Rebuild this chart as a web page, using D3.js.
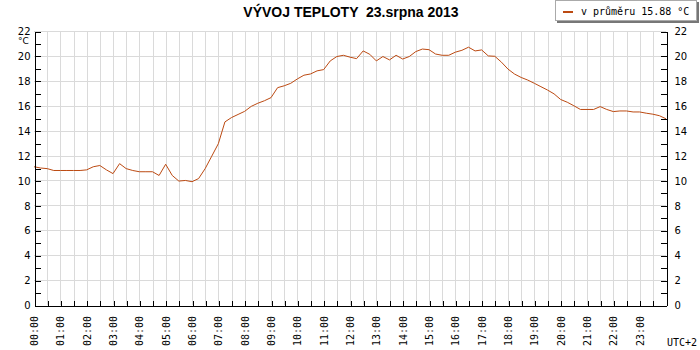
<!DOCTYPE html>
<html>
<head>
<meta charset="utf-8">
<script src="https://cdn.jsdelivr.net/npm/d3@7"></script>
<style>
    body { margin: 0; background: #fff; }
    svg { display: block; }
</style>
</head>
<body>
<div id="chart"></div>
<script>
    // teplota po 15 minutach
    const times = [
        "00:00","00:15","00:30","00:45","01:00","01:15","01:30","01:45",
        "02:00","02:15","02:30","02:45","03:00","03:15","03:30","03:45",
        "04:00","04:15","04:30","04:45","05:00","05:15","05:30","05:45",
        "06:00","06:15","06:30","06:45","07:00","07:15","07:30","07:45",
        "08:00","08:15","08:30","08:45","09:00","09:15","09:30","09:45",
        "10:00","10:15","10:30","10:45","11:00","11:15","11:30","11:45",
        "12:00","12:15","12:30","12:45","13:00","13:15","13:30","13:45",
        "14:00","14:15","14:30","14:45","15:00","15:15","15:30","15:45",
        "16:00","16:15","16:30","16:45","17:00","17:15","17:30","17:45",
        "18:00","18:15","18:30","18:45","19:00","19:15","19:30","19:45",
        "20:00","20:15","20:30","20:45","21:00","21:15","21:30","21:45",
        "22:00","22:15","22:30","22:45","23:00","23:15","23:30","23:45",
        "24:00"
    ];
    const temps = [
        11.1, 11.0, 10.95, 10.8, 10.8, 10.8, 10.8, 10.8,
        10.85, 11.1, 11.2, 10.85, 10.55, 11.35, 10.95, 10.8,
        10.7, 10.7, 10.7, 10.4, 11.3, 10.4, 9.95, 10.0,
        9.9, 10.15, 10.95, 11.95, 12.95, 14.7, 15.05, 15.3,
        15.55, 15.95, 16.2, 16.4, 16.65, 17.45, 17.6, 17.8,
        18.15, 18.45, 18.55, 18.8, 18.9, 19.6, 19.95, 20.05,
        19.9, 19.78, 20.4, 20.13, 19.6, 19.95, 19.68, 20.05,
        19.75, 19.95, 20.35, 20.55, 20.5, 20.15, 20.05, 20.05,
        20.3, 20.45, 20.7, 20.4, 20.48, 20.0, 19.97, 19.5,
        18.94, 18.54, 18.27, 18.06, 17.8, 17.53, 17.26, 16.95,
        16.5, 16.28, 16.0, 15.7, 15.7, 15.7, 15.93, 15.7,
        15.53, 15.58, 15.58, 15.5, 15.5, 15.4, 15.32, 15.2,
        14.95
    ];
    const hourLabels = d3.range(0, 24).map(h => String(h).padStart(2, "0") + ":00");
    const yTicks = d3.range(0, 23);
    const title = "VÝVOJ TEPLOTY  23.srpna 2013";
    const legendText = "v průměru 15.88 °C";

    const lineColor = "#bc4a12";
    const gridColor = "#dadada";

    const width = 700, height = 350;
    const margin = { top: 31, right: 34, bottom: 45, left: 34 };

    const svg = d3.select("#chart")
        .append("svg")
        .attr("width", width)
        .attr("height", height);

    const x = d3.scaleLinear()
        .domain([0, 24])
        .range([margin.left, width - margin.right]);

    const y = d3.scaleLinear()
        .domain([0, 22])
        .range([height - margin.bottom, margin.top]);

    const toHours = t => +t.slice(0, 2) + +t.slice(3) / 60;
    const data = times.map((t, i) => ({ h: toHours(t), v: temps[i] }));

    // mrizka
    const grid = svg.append("g").attr("shape-rendering", "crispEdges");
    grid.selectAll(".vgrid")
        .data(d3.range(0.5, 24, 0.5))
        .enter()
        .append("line")
        .attr("x1", d => Math.round(x(d)) + 0.5)
        .attr("x2", d => Math.round(x(d)) + 0.5)
        .attr("y1", y(22))
        .attr("y2", y(0))
        .attr("stroke", gridColor);
    grid.selectAll(".hgrid")
        .data(d3.range(2, 23, 2))
        .enter()
        .append("line")
        .attr("x1", x(0))
        .attr("x2", x(24))
        .attr("y1", d => Math.round(y(d)) + 0.5)
        .attr("y2", d => Math.round(y(d)) + 0.5)
        .attr("stroke", gridColor);

    // krivka
    const line = d3.line()
        .x(d => x(d.h))
        .y(d => y(d.v));

    svg.append("path")
        .datum(data)
        .attr("d", line)
        .attr("fill", "none")
        .attr("stroke", lineColor)
        .attr("stroke-width", 1);

    // osa Y vlevo
    svg.append("g")
        .attr("transform", `translate(${x(0) + 0.5},0.5)`)
        .call(d3.axisLeft(y).tickValues(yTicks).tickSize(-6).tickSizeOuter(0).tickPadding(4)
            .tickFormat(d => d % 2 === 0 ? d : ""))
        .call(g => g.selectAll("text").style("font", "10px 'DejaVu Sans'").attr("fill", "#000"))
        .attr("shape-rendering", "crispEdges");

    // osa Y vpravo
    svg.append("g")
        .attr("transform", `translate(${x(24) + 0.5},0.5)`)
        .call(d3.axisRight(y).tickValues(yTicks).tickSize(-6).tickSizeOuter(0).tickPadding(8)
            .tickFormat(d => d % 2 === 0 ? d : ""))
        .call(g => g.selectAll("text").style("font", "10px 'DejaVu Sans'").attr("fill", "#000"))
        .attr("shape-rendering", "crispEdges");

    // osa X
    svg.append("g")
        .attr("transform", `translate(0.5,${y(0) + 0.5})`)
        .call(d3.axisBottom(x).tickValues(d3.range(0, 24.01, 0.5)).tickSize(-5).tickSizeOuter(0).tickFormat(""))
        .attr("shape-rendering", "crispEdges");

    svg.append("g")
        .selectAll("text")
        .data(hourLabels)
        .enter()
        .append("text")
        .attr("transform", (d, i) => `translate(${x(i) + 0.5},${y(0) + 11}) rotate(-90)`)
        .attr("text-anchor", "end")
        .attr("dy", "0.35em")
        .style("font", "10px 'DejaVu Sans Mono'")
        .text(d => d);

    svg.append("text")
        .attr("x", 18)
        .attr("y", 44)
        .style("font", "9px 'DejaVu Sans'")
        .text("°C");

    svg.append("text")
        .attr("x", 667)
        .attr("y", 346)
        .style("font", "10px 'DejaVu Sans Mono'")
        .text("UTC+2");

    // titulek
    svg.append("text")
        .attr("x", 351)
        .attr("y", 17)
        .attr("text-anchor", "middle")
        .style("font", "bold 14px 'Liberation Sans'")
        .style("white-space", "pre")
        .text(title);

    // legenda
    const legend = svg.append("g").attr("shape-rendering", "crispEdges");
    legend.append("rect")
        .attr("x", 557).attr("y", 2)
        .attr("width", 142).attr("height", 21)
        .attr("fill", "#777");
    legend.append("rect")
        .attr("x", 555.5).attr("y", 0.5)
        .attr("width", 141).attr("height", 20)
        .attr("fill", "#fff")
        .attr("stroke", "#aaa");
    legend.append("line")
        .attr("x1", 563).attr("x2", 573)
        .attr("y1", 11.5).attr("y2", 11.5)
        .attr("stroke", lineColor)
        .attr("stroke-width", 2);
    legend.append("text")
        .attr("x", 581)
        .attr("y", 15)
        .style("font", "10px 'DejaVu Sans Mono'")
        .text(legendText);
</script>
</body>
</html>
